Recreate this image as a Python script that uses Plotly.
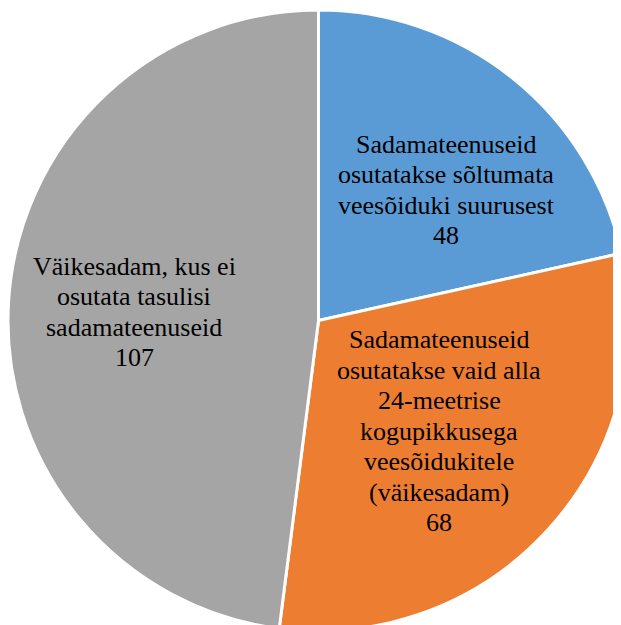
import plotly.graph_objects as go

labels = [
    "Sadamateenuseid osutatakse sõltumata veesõiduki suurusest",
    "Sadamateenuseid osutatakse vaid alla 24-meetrise kogupikkusega veesõidukitele (väikesadam)",
    "Väikesadam, kus ei osutata tasulisi sadamateenuseid",
]
label_lines = [
    ["Sadamateenuseid", "osutatakse sõltumata", "veesõiduki suurusest"],
    ["Sadamateenuseid", "osutatakse vaid alla", "24-meetrise", "kogupikkusega", "veesõidukitele", "(väikesadam)"],
    ["Väikesadam, kus ei", "osutata tasulisi", "sadamateenuseid"],
]
values = [48, 68, 107]
colors = ["#5B9BD5", "#ED7D31", "#A5A5A5"]

W, H = 621, 625
OFF = 8  # default page margin around the plot
# label block centres in page pixels, converted to paper fractions
label_px = [(446, 190), (439, 431), (134, 312)]
label_pos = [((x - OFF) / W, 1 - (y - OFF) / H) for x, y in label_px]

FONT = "Liberation Serif"
LINE = 30.5

fig = go.Figure(go.Pie(
    labels=labels,
    values=values,
    textinfo="none",
    sort=False,
    direction="clockwise",
    rotation=0,
    marker=dict(colors=colors, line=dict(color="white", width=3)),
    hoverinfo="label+value",
    domain=dict(x=[0, 1], y=[0, 1]),
))

annotations = []
for lines, v, (px, py) in zip(label_lines, values, label_pos):
    all_lines = lines + [str(v)]
    n = len(all_lines)
    for i, t in enumerate(all_lines):
        annotations.append(dict(
            x=px, y=py, xref="paper", yref="paper",
            text=t, showarrow=False,
            xanchor="center", yanchor="middle",
            yshift=((n - 1) / 2 - i) * LINE,
            font=dict(family=FONT, size=26, color="black"),
        ))

fig.update_layout(
    width=W, height=H,
    margin=dict(l=0, r=0, t=0, b=0),
    showlegend=False,
    paper_bgcolor="white",
    annotations=annotations,
)
fig.write_html("out.html")
